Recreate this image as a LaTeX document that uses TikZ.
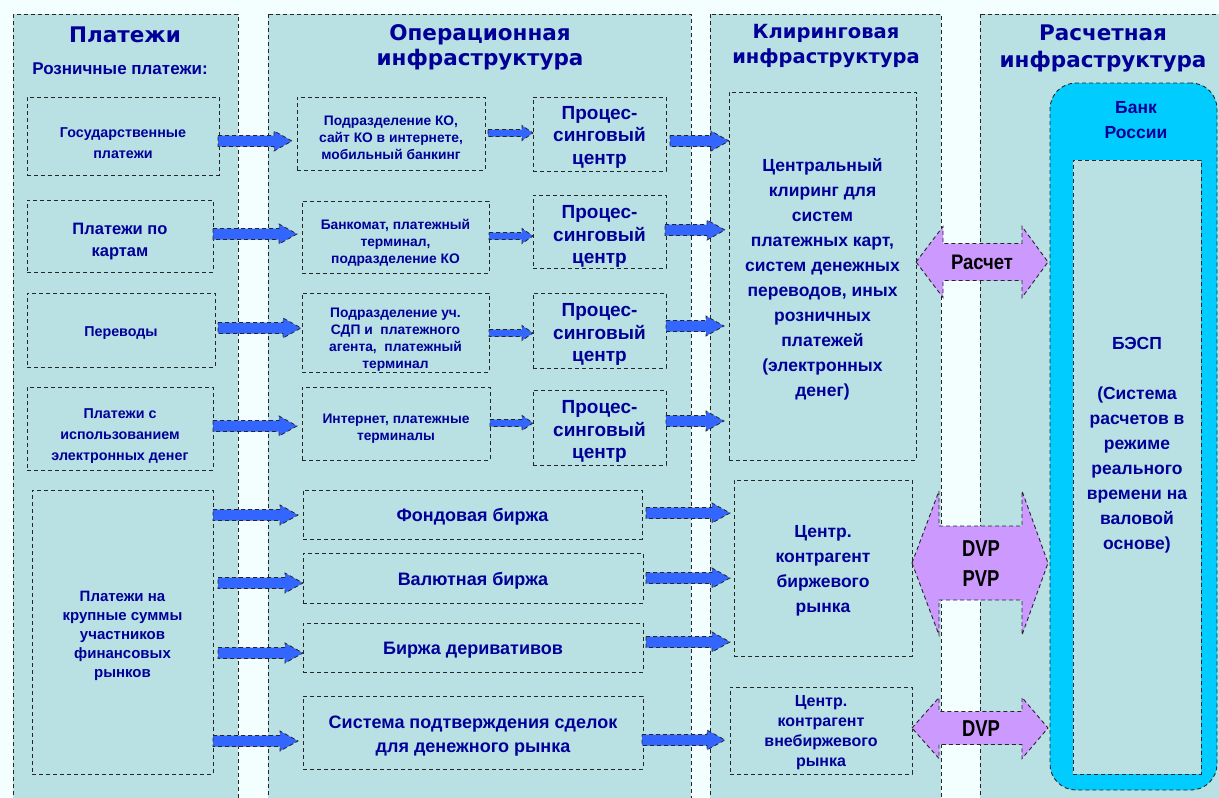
\documentclass[tikz,border=0pt]{standalone}
\usepackage{fontspec}
\setmainfont{Liberation Sans}
\newfontfamily\hdrfont{DejaVu Sans}
\usepackage{graphicx}
\usetikzlibrary{calc}
\definecolor{bgcol}{HTML}{F3FFFF}
\definecolor{colbg}{HTML}{B9E0E3}
\definecolor{navy}{HTML}{000099}
\definecolor{arrblue}{HTML}{3366FF}
\definecolor{lilac}{HTML}{CC99FF}
\definecolor{cyanb}{HTML}{00CCFF}
\tikzset{
 dsh/.style={draw=black!85, line width=0.9pt, dash pattern=on 4pt off 3pt},
 column/.style={dsh, fill=colbg},
 box/.style={dsh, fill=colbg, inner sep=0pt, outer sep=0pt, anchor=north west},
 btext/.style={text=navy, align=center, inner sep=0pt},
 barrow/.style={dsh, fill=arrblue, line width=0.8pt},
 darrow/.style={dsh, fill=lilac},
 hdr/.style={text=navy, align=center, font=\hdrfont\bfseries\fontsize{21.5}{25}\selectfont},
 fa/.style={font=\bfseries\fontsize{14.3}{21}\selectfont},
 fb/.style={font=\bfseries\fontsize{13.8}{17}\selectfont},
 fc/.style={font=\bfseries\fontsize{19}{22.5}\selectfont},
 fd/.style={font=\bfseries\fontsize{17.5}{25}\selectfont},
 fe/.style={font=\bfseries\fontsize{18}{24}\selectfont},
 lbl/.style={text=black, align=center, font=\bfseries\fontsize{23}{30}\selectfont},
}
% box: [text opts]{name}{x1}{y1}{x2}{y2}{text shift down}{text}
\newcommand\bx[8][]{%
 \node[box,minimum width={(#5-#3)*1pt},minimum height={(#6-#4)*1pt}] (#2) at (#3,#4) {};
 \node[btext,#1] (#2t) at ([yshift=-#7pt]#2.center) {#8};}
% large block arrow: from, to, y, start gap, end gap
\newcommand\barr[5]{%
 \draw[barrow] let \p1=(#1.east), \p2=(#2.west), \p3=(0,#3),
   \n1={\x1+(#4)}, \n2={\x2-(#5)}, \n3={\x2-(#5)-18} in
 (\n1,{\y3+5.5}) -- (\n3,{\y3+5.5}) -- (\n3,{\y3+10}) -- (\n2,\y3)
 -- (\n3,{\y3-10}) -- (\n3,{\y3-5.5}) -- (\n1,{\y3-5.5}) -- cycle;}
% small block arrow
\newcommand\sarr[5]{%
 \draw[barrow] let \p1=(#1.east), \p2=(#2.west), \p3=(0,#3),
   \n1={\x1+(#4)}, \n2={\x2-(#5)}, \n3={\x2-(#5)-11} in
 (\n1,{\y3+3.5}) -- (\n3,{\y3+3.5}) -- (\n3,{\y3+7.5}) -- (\n2,\y3)
 -- (\n3,{\y3-7.5}) -- (\n3,{\y3-3.5}) -- (\n1,{\y3-3.5}) -- cycle;}
% double block arrow: from, to, y, shaft half, head half
\newcommand\darr[5]{%
 \draw[darrow] let \p1=(#1.east), \p2=(#2.west), \p3=(0,#3),
   \n1={\x1+27}, \n2={\x2-28}, \n3={\x2-2} in
 (\x1,\y3) -- (\n1,{\y3+#5}) -- (\n1,{\y3+#4}) -- (\n2,{\y3+#4}) -- (\n2,{\y3+#5})
 -- (\n3,\y3) -- (\n2,{\y3-#5}) -- (\n2,{\y3-#4}) -- (\n1,{\y3-#4}) -- (\n1,{\y3-#5}) -- cycle;}
\begin{document}
\begin{tikzpicture}[x=1pt,y=-1pt]
\useasboundingbox (0,0) rectangle (1219,798);
\clip (0,0) rectangle (1219,798);
\fill[bgcol] (0,0) rectangle (1219,798);
% columns
\draw[column] (13,14) rectangle (238,815);
\draw[column] (268,14) rectangle (691,815);
\draw[column] (710,14) rectangle (941,815);
\draw[column] (980,14) rectangle (1235,815);
% headers
\node[hdr] (h1) at (125,35) {Платежи};
\node[text=navy, font=\bfseries\fontsize{17}{19}\selectfont] (h1b) at (120,69) {Розничные платежи:};
\node[hdr] (h2) at (480,47.5) {Операционная\\инфраструктура};
\node[hdr, font=\hdrfont\bfseries\fontsize{19.5}{25}\selectfont] (h3) at (826,45.5) {Клиринговая\\инфраструктура};
\node[hdr, font=\hdrfont\bfseries\fontsize{21.5}{27}\selectfont] (h4) at (1103,48.5) {Расчетная\\инфраструктура};
% column 1
\bx[fa]{gov}{27}{97}{219}{175}{7}{Государственные\\платежи}
\bx[font=\bfseries\fontsize{16.5}{22}\selectfont]{cards}{27}{200}{213}{272}{6}{Платежи по\\картам}
\bx[fa]{perev}{27}{293}{215}{367}{3}{Переводы}
\bx[fa]{eld}{27}{387}{213}{470}{8}{Платежи с\\использованием\\электронных денег}
\bx[font=\bfseries\fontsize{15}{19}\selectfont]{big}{32}{490}{213}{774}{4}{Платежи на\\крупные суммы\\участников\\финансовых\\рынков}
% column 2
\bx[fb]{podr}{297}{97}{485}{170}{4}{Подразделение КО,\\сайт КО в интернете,\\мобильный банкинг}
\bx[fb]{bankomat}{302}{201}{489}{273}{6}{Банкомат, платежный\\терминал,\\подразделение КО}
\bx[fb]{podruch}{302}{293}{489}{372}{7}{Подразделение уч.\\СДП и \ платежного\\агента, \ платежный\\терминал}
\bx[fb]{inet}{302}{387}{490}{460}{5}{Интернет, платежные\\терминалы}
\bx[fc]{pc1}{533}{97}{666}{171}{3}{Процес-\\синговый\\центр}
\bx[fc]{pc2}{533}{195}{666}{268}{5}{Процес-\\синговый\\центр}
\bx[fc]{pc3}{533}{293}{666}{368}{4}{Процес-\\синговый\\центр}
\bx[fc]{pc4}{533}{390}{666}{465}{4}{Процес-\\синговый\\центр}
\bx[fe]{fond}{303}{490}{642}{539}{2}{Фондовая биржа}
\bx[fe]{val}{303}{553}{643}{603}{3}{Валютная биржа}
\bx[fe]{deriv}{303}{623}{643}{672}{3}{Биржа деривативов}
\bx[fe]{sys}{303}{696}{643}{769}{4}{Система подтверждения сделок\\для денежного рынка}
% column 3
\bx[fd]{clear}{729}{92}{916}{460}{3}{Центральный\\клиринг для\\систем\\платежных карт,\\систем денежных\\переводов, иных\\розничных\\платежей\\(электронных\\денег)}
\bx[fd]{kontr}{734}{480}{912}{656}{3}{Центр.\\контрагент\\биржевого\\рынка}
\bx[font=\bfseries\fontsize{16}{20}\selectfont]{vneb}{730}{687}{912}{774}{2}{Центр.\\контрагент\\внебиржевого\\рынка}
% column 4
\node[box, fill=cyanb, rounded corners=26pt, minimum width=167pt, minimum height=707pt] (bank) at (1050,83) {};
\node[box, minimum width=128pt, minimum height=614pt] (besp) at (1073,160) {};
\node[btext, fd] (bankt) at (1136,120) {Банк\\России};
\node[btext, fd] (bespt) at (1137,445) {БЭСП\\[25pt](Система\\расчетов в\\режиме\\реального\\времени на\\валовой\\основе)};
% blue arrows col1 -> col2
\barr{gov}{podr}{141}{-1}{5}
\barr{cards}{bankomat}{234}{0}{5}
\barr{perev}{podruch}{328}{3}{1}
\barr{eld}{inet}{426}{0}{5}
\barr{big}{fond}{515}{0}{5}
\barr{big}{val}{583}{5}{0}
\barr{big}{deriv}{653}{5}{0}
\barr{big}{sys}{741}{0}{5}
% small arrows inside col2
\sarr{podr}{pc1}{133}{3}{0}
\sarr{bankomat}{pc2}{236}{0}{0}
\sarr{podruch}{pc3}{333}{0}{0}
\sarr{inet}{pc4}{423}{0}{0}
% col2 -> col3
\barr{pc1}{clear}{141}{4}{0}
\barr{pc2}{clear}{230}{-1}{4}
\barr{pc3}{clear}{326}{0}{5}
\barr{pc4}{clear}{421}{0}{5}
\barr{fond}{kontr}{513}{4}{4}
\barr{val}{kontr}{578}{3}{4}
\barr{deriv}{kontr}{642}{3}{4}
\barr{sys}{vneb}{740}{-1}{5}
% double arrows col3 <-> col4
\darr{clear}{bank}{262}{18.5}{35.5}
\darr{kontr}{bank}{563}{37}{72}
\darr{vneb}{bank}{728}{16.5}{30.5}
\node[lbl, font=\bfseries\fontsize{21}{25}\selectfont] (l1) at (982,262) {\scalebox{0.88}[1]{Расчет}};
\node[lbl] (l2) at (981,564) {\scalebox{0.8}[1]{DVP}\\\scalebox{0.8}[1]{PVP}};
\node[lbl] (l3) at (981,729) {\scalebox{0.8}[1]{DVP}};
\end{tikzpicture}
\end{document}
